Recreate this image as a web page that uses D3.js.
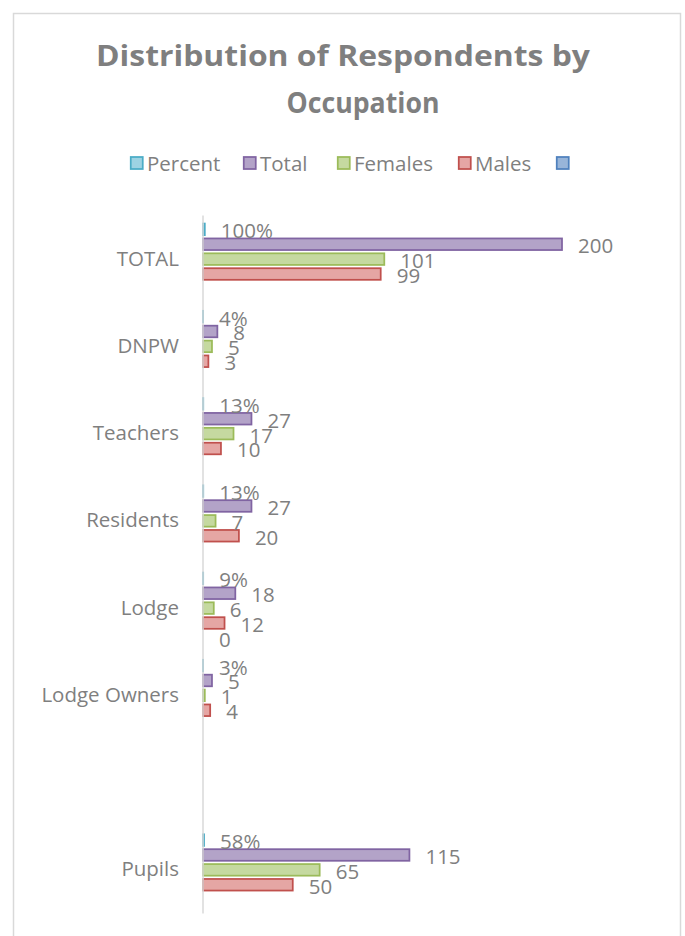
<!DOCTYPE html>
<html>
<head>
<meta charset="utf-8">
<script src="https://cdnjs.cloudflare.com/ajax/libs/d3/7.8.5/d3.min.js"></script>
<style>
  body { margin: 0; background: #fff; }
  text { font-family: "Open Sans", sans-serif; fill: #7f7f7f; }
</style>
</head>
<body>
<div class="vis-holder"></div>
<script>
// categories, top to bottom (one unnamed slot between Lodge Owners and Pupils)
var categories = ["TOTAL", "DNPW", "Teachers", "Residents", "Lodge", "Lodge Owners", " ", "Pupils"];

// series values
var percent = [1.00, 0.04, 0.13, 0.13, 0.09, 0.03, null, 0.58];
var total   = [200, 8, 27, 27, 18, 5, null, 115];
var females = [101, 5, 17, 7, 6, 1, null, 65];
var males   = [99, 3, 10, 20, 12, 4, null, 50];
var unnamed = [null, null, null, null, 0, null, null, null];

var seriesNames = ["Percent", "Total", "Females", "Males", ""];
var seriesKeys = ["percent", "total", "females", "males", "unnamed"];
var seriesValues = [percent, total, females, males, unnamed];
var fills   = ["#9dd3e3", "#b3a3c8", "#c5d9a0", "#e5a6a4", "#98b5d9"];
var strokes = ["#4bacc6", "#8064a2", "#9bbb59", "#c0504d", "#4f81bd"];

var width = 685;
var height = 936;
var margin = { top: 215.5, bottom: 22.5, left: 203, right: 123 };
var fontSize = "20.5px";

var svg = d3.select(".vis-holder")
      .append("svg")
      .attr("width", width)
      .attr("height", height);

// chart frame
svg.append("rect")
    .attr("x", 13.5)
    .attr("y", 13.5)
    .attr("width", 667)
    .attr("height", 960)
    .attr("fill", "#fff")
    .attr("stroke", "#d9d9d9")
    .attr("stroke-width", 1.5);

// title
var title = svg.append("text")
    .attr("text-anchor", "middle")
    .style("font-weight", "bold")
    .style("font-size", "29px");
title.append("tspan").attr("x", 343).attr("y", 66)
    .attr("textLength", 494).attr("lengthAdjust", "spacingAndGlyphs")
    .text("Distribution of Respondents by");
title.append("tspan").attr("x", 363).attr("y", 113)
    .attr("textLength", 153).attr("lengthAdjust", "spacingAndGlyphs")
    .text("Occupation");

// legend
var legendX = [130, 243, 337, 458, 556];
var legend = svg.append("g").attr("class", "legend");
seriesNames.forEach(function(name, i) {
  legend.append("rect")
      .attr("x", legendX[i] + 0.75)
      .attr("y", 157)
      .attr("width", 12)
      .attr("height", 12)
      .attr("fill", fills[i])
      .attr("stroke", strokes[i])
      .attr("stroke-width", 1.75);
  legend.append("text")
      .attr("x", legendX[i] + 17)
      .attr("y", 170.5)
      .style("font-size", fontSize)
      .text(name);
});

var xScale = d3.scaleLinear()
    .domain([0, 200])
    .range([margin.left, width - margin.right]);

var yScale = d3.scaleBand()
    .domain(categories)
    .range([margin.top, height - margin.bottom])
    .paddingInner(0.164)
    .paddingOuter(0.082);

var ySub = d3.scaleBand()
    .domain(seriesKeys)
    .range([0, yScale.bandwidth()])
    .paddingInner(0.1);

// rows: one per category with every series value
var rows = categories.map(function(c, i) {
  return {
    category: c,
    values: seriesKeys.map(function(k, j) {
      return { key: k, idx: j, value: seriesValues[j][i] };
    })
  };
});

var groups = svg.selectAll("g.category")
    .data(rows)
    .enter()
    .append("g")
    .attr("class", "category")
    .attr("transform", function(d) { return "translate(0," + yScale(d.category) + ")"; });

var present = function(d) { return d.values.filter(function(v) { return v.value !== null; }); };

groups.selectAll("rect.bar")
    .data(present)
    .enter()
    .append("rect")
    .attr("class", "bar")
    .attr("x", xScale(0))
    .attr("y", function(d) { return ySub(d.key) + 0.9; })
    .attr("width", function(d) { return xScale(d.value) - xScale(0); })
    .attr("height", ySub.bandwidth() - 1.8)
    .attr("fill", function(d) { return fills[d.idx]; })
    .attr("stroke", function(d) { return strokes[d.idx]; })
    .attr("stroke-width", function(d) { return d.value === 0 ? 0 : 1.75; });

// vertical category axis line
svg.append("line")
    .attr("x1", xScale(0))
    .attr("x2", xScale(0))
    .attr("y1", margin.top)
    .attr("y2", height - margin.bottom)
    .attr("stroke", "#d9d9d9")
    .attr("stroke-width", 1.5);

// data labels
groups.selectAll("text.label")
    .data(present)
    .enter()
    .append("text")
    .attr("class", "label")
    .attr("x", function(d) { return xScale(d.value) + 16; })
    .attr("y", function(d) { return ySub(d.key) + ySub.bandwidth() / 2 + 9; })
    .style("font-size", fontSize)
    .text(function(d) { return d.key === "percent" ? Math.round(d.value * 100) + "%" : d.value; });

// category labels
var yAxis = d3.axisLeft(yScale).tickSize(0).tickPadding(24);
var axisG = svg.append("g")
    .attr("transform", "translate(" + xScale(0) + ",0)")
    .call(yAxis);
axisG.select(".domain").remove();
axisG.selectAll("text")
    .style("font-size", fontSize)
    .style("font-family", "'Open Sans', sans-serif")
    .attr("fill", "#7f7f7f");
</script>
</body>
</html>
